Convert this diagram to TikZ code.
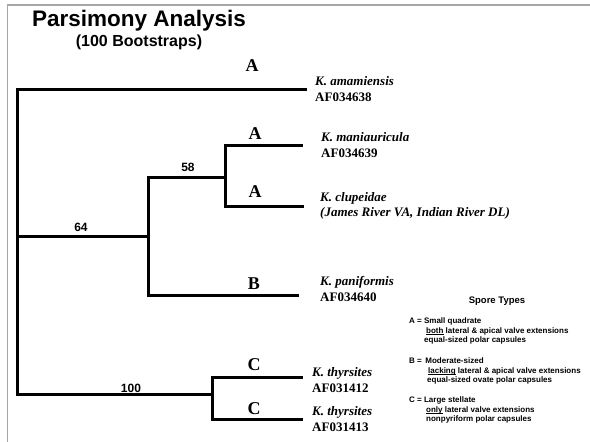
\documentclass[tikz,border=0pt]{standalone}
\usepackage{fontspec}
\setmainfont{Liberation Serif}
\setsansfont{Liberation Sans}
\usetikzlibrary{positioning}
\newcommand{\undl}[1]{\underline{\smash{#1}}}

\begin{document}
\begin{tikzpicture}[
    x=1pt, y=-1pt,
    branch/.style={line width=3pt},
    frameline/.style={gray!70, line width=1.5pt},
    clade/.style={anchor=base, inner sep=0pt, font=\bfseries\fontsize{18}{18}\selectfont},
    boot/.style={anchor=base, inner sep=0pt, font=\sffamily\bfseries\fontsize{12}{12}\selectfont},
    taxon/.style={anchor=west, inner sep=0pt, align=left, font=\bfseries\fontsize{13}{15.5}\selectfont},
    legend/.style={anchor=west, inner sep=0pt, align=left, font=\sffamily\bfseries\fontsize{8}{9.8}\selectfont}
]
\useasboundingbox (0,0) rectangle (590,442);
% Frame on the top and left
\draw[frameline] (7.5,442) -- (7.5,4.8) -- (590,4.8);
% Title
\node[anchor=base, font=\sffamily\bfseries\fontsize{22.5}{27}\selectfont] (title) at (139,26) {Parsimony Analysis};
\node[anchor=base, font=\sffamily\bfseries\fontsize{16}{19}\selectfont] (subtitle) at (139,46) {(100 Bootstraps)};
% Tree nodes
\coordinate (root) at (17,236);
\coordinate (n64) at (148,236);
\coordinate (n58) at (225,177);
\coordinate (n100) at (212,394);
\coordinate (amam) at (307,89);
\coordinate (mani) at (303,145);
\coordinate (clup) at (304,206);
\coordinate (pani) at (299,295);
\coordinate (thyA) at (303,377);
\coordinate (thyB) at (303,419);
% Branches
\draw[branch] (root) |- (amam);
\draw[branch] (root) -- (n64);
\draw[branch] (root) |- (n100);
\draw[branch] (n64) |- (n58);
\draw[branch] (n64) |- (pani);
\draw[branch] (n58) |- (mani);
\draw[branch] (n58) |- (clup);
\draw[branch] (n100) |- (thyA);
\draw[branch] (n100) |- (thyB);
% Bootstrap values
\node[boot] (b64) at (81,231) {64};
\node[boot] (b58) at (188,171) {58};
\node[boot] (b100) at (131,392) {100};
% Spore types on branches
\node[clade] (sA1) at (252,71) {A};
\node[clade] (sA2) at (255,139) {A};
\node[clade] (sA3) at (255,197) {A};
\node[clade] (sB) at (254,289) {B};
\node[clade] (sC1) at (254,370) {C};
\node[clade] (sC2) at (254,414) {C};
% Taxa
\node[taxon, right=8pt of amam] (tamam) {\textit{K. amamiensis}\\AF034638};
\node[taxon, right=18pt of mani] (tmani) {\textit{K. maniauricula}\\AF034639};
\node[taxon, right=16pt of clup] (tclup) {\textit{K. clupeidae}\\\textit{(James River VA, Indian River DL)}};
\node[taxon, right=21pt of pani, yshift=6pt] (tpani) {\textit{K. paniformis}\\AF034640};
\node[taxon, right=9pt of thyA, yshift=-3pt] (tthyA) {\textit{K. thyrsites}\\AF031412};
\node[taxon, right=9pt of thyB] (tthyB) {\textit{K. thyrsites}\\AF031413};
% Legend
\node[anchor=base, font=\sffamily\bfseries\fontsize{9.5}{11}\selectfont] (spore) at (497,303) {Spore Types};
\node[legend] (legA) at (409,331) {A = Small quadrate\\\hspace*{17pt}\undl{both} lateral \& apical valve extensions\\\hspace*{15pt}equal-sized polar capsules};
\node[legend] (legB) at (409,371) {B = \,Moderate-sized\\\hspace*{19pt}\undl{lacking} lateral \& apical valve extensions\\\hspace*{18pt}equal-sized ovate polar capsules};
\node[legend] (legC) at (409,410) {C = Large stellate\\\hspace*{17pt}\undl{only} lateral valve extensions\\\hspace*{17pt}nonpyriform polar capsules};
\end{tikzpicture}
\end{document}
